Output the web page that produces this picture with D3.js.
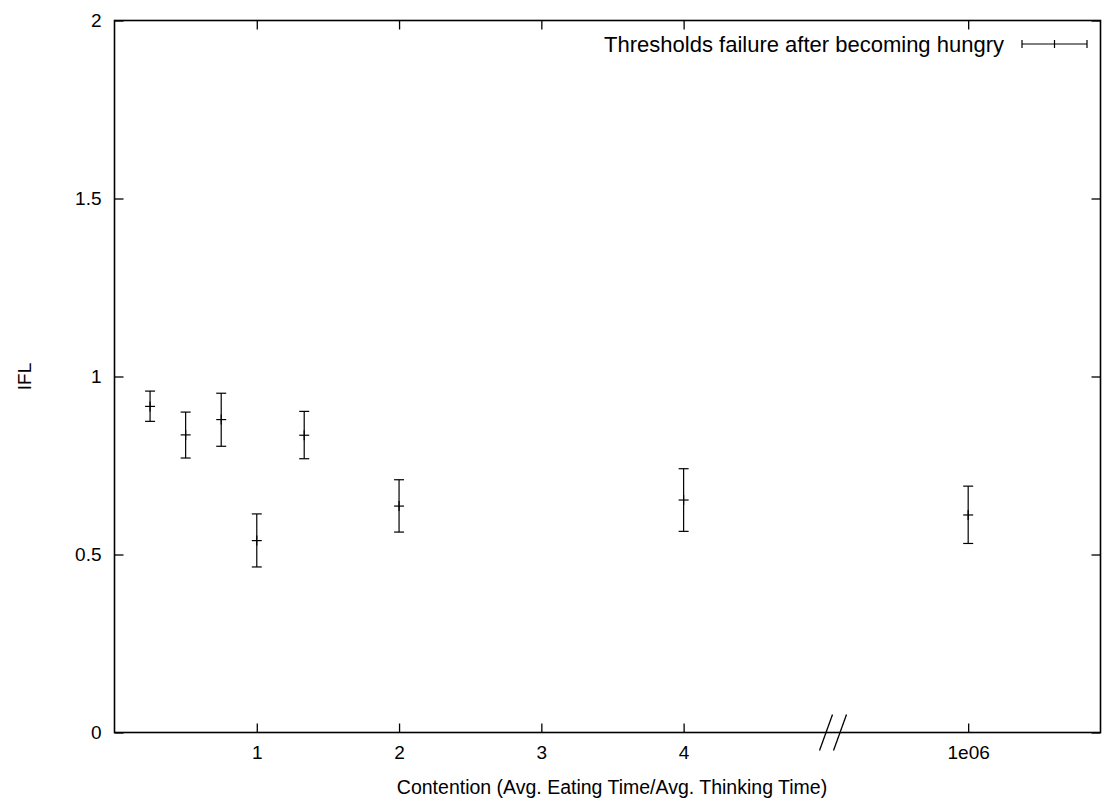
<!DOCTYPE html>
<html>
<head>
<meta charset="utf-8">
<script src="https://cdn.jsdelivr.net/npm/d3@7"></script>
<style>
  html, body { margin: 0; padding: 0; background: #fff; }
  svg { display: block; }
  text { font-family: "Liberation Sans", Arial, Helvetica, sans-serif; fill: #000; }
</style>
</head>
<body>
<svg id="chart" width="1115" height="807"></svg>
<script>
// Contention ratio (avg eating / avg thinking) for each run
const contention = [0.25, 0.5, 0.75, 1, 4 / 3, 2, 4, 1e6];
// Mean IFL and error-bar limits
const iflMean = [0.916, 0.836, 0.879, 0.539, 0.835, 0.636, 0.653, 0.611];
const iflLow  = [0.874, 0.771, 0.804, 0.465, 0.769, 0.563, 0.565, 0.531];
const iflHigh = [0.959, 0.900, 0.953, 0.614, 0.902, 0.710, 0.741, 0.692];

const xTickValues = [1, 2, 3, 4, 6];
const xTickLabels = ["1", "2", "3", "4", "1e06"];
const yTickValues = [0, 0.5, 1, 1.5, 2];
const yTickLabels = ["0", "0.5", "1", "1.5", "2"];

const seriesName = "Thresholds failure after becoming hungry";
const xTitle = "Contention (Avg. Eating Time/Avg. Thinking Time)";
const yTitle = "IFL";

// The axis is broken after 4; the huge value sits in the slot at 6.
const breakAt = 5.05;
const farSlot = 6;
const axisPos = c => (c > breakAt ? farSlot : c);

(function draw() {
  const svg = d3.select("#chart");
  const pl = 114.5, pr = 1100.5, pt = 20.5, pb = 732.5;
  const fontSize = 19;
  const tickLen = 9;

  // x = 0 sits on the left border, one unit is about 142 px
  const x = d3.scaleLinear().domain([0, 6.93]).range([pl, pr]);
  const y = d3.scaleLinear().domain([0, 2]).range([pb, pt]);

  const data = contention.map((c, i) => ({
    pos: axisPos(c), mean: iflMean[i], lo: iflLow[i], hi: iflHigh[i]
  }));

  // Bottom axis with inward ticks
  const xAxis = d3.axisBottom(x)
    .tickValues(xTickValues)
    .tickFormat((d, i) => xTickLabels[i])
    .tickSizeInner(-tickLen).tickSizeOuter(0).tickPadding(13);
  const gx = svg.append("g").attr("transform", `translate(0,${pb})`).call(xAxis);
  gx.select(".domain").remove();
  gx.selectAll("line").attr("stroke", "#000").attr("stroke-width", 1.3);
  gx.selectAll("text").attr("font-size", fontSize).attr("font-family", null);

  // Mirrored top ticks
  const gxTop = svg.append("g").attr("transform", `translate(0,${pt})`)
    .call(d3.axisTop(x).tickValues(xTickValues).tickFormat("").tickSizeInner(-tickLen).tickSizeOuter(0));
  gxTop.select(".domain").remove();
  gxTop.selectAll("line").attr("stroke", "#000").attr("stroke-width", 1.3);

  // Left axis
  const yAxis = d3.axisLeft(y)
    .tickValues(yTickValues)
    .tickFormat((d, i) => yTickLabels[i])
    .tickSizeInner(-tickLen).tickSizeOuter(0).tickPadding(13);
  const gy = svg.append("g").attr("transform", `translate(${pl},0)`).call(yAxis);
  gy.select(".domain").remove();
  gy.selectAll("line").attr("stroke", "#000").attr("stroke-width", 1.3);
  gy.selectAll("text").attr("font-size", fontSize).attr("font-family", null);

  // Mirrored right ticks
  const gyR = svg.append("g").attr("transform", `translate(${pr},0)`)
    .call(d3.axisRight(y).tickValues(yTickValues).tickFormat("").tickSizeInner(-tickLen).tickSizeOuter(0));
  gyR.select(".domain").remove();
  gyR.selectAll("line").attr("stroke", "#000").attr("stroke-width", 1.3);

  // Plot border
  svg.append("rect")
    .attr("x", pl).attr("y", pt)
    .attr("width", pr - pl).attr("height", pb - pt)
    .attr("fill", "none").attr("stroke", "#000").attr("stroke-width", 1.6);

  // Axis break marks
  const bx = x(breakAt);
  [-7, 7].forEach(off => {
    svg.append("line")
      .attr("x1", bx + off - 6.5).attr("y1", pb + 18)
      .attr("x2", bx + off + 6.5).attr("y2", pb - 18)
      .attr("stroke", "#000").attr("stroke-width", 1.3);
  });

  // Error bars
  const capHalf = 5, markHalf = 5;
  const eb = svg.append("g").attr("stroke", "#000").attr("stroke-width", 1.2).attr("fill", "none");
  const pts = eb.selectAll("g.pt").data(data).join("g").attr("class", "pt");
  pts.append("line")
    .attr("x1", d => x(d.pos)).attr("x2", d => x(d.pos))
    .attr("y1", d => y(d.lo)).attr("y2", d => y(d.hi));
  pts.append("line")
    .attr("x1", d => x(d.pos) - capHalf).attr("x2", d => x(d.pos) + capHalf)
    .attr("y1", d => y(d.lo)).attr("y2", d => y(d.lo));
  pts.append("line")
    .attr("x1", d => x(d.pos) - capHalf).attr("x2", d => x(d.pos) + capHalf)
    .attr("y1", d => y(d.hi)).attr("y2", d => y(d.hi));
  // point marker (+)
  pts.append("line")
    .attr("x1", d => x(d.pos) - markHalf).attr("x2", d => x(d.pos) + markHalf)
    .attr("y1", d => y(d.mean)).attr("y2", d => y(d.mean));
  pts.append("line")
    .attr("x1", d => x(d.pos)).attr("x2", d => x(d.pos))
    .attr("y1", d => y(d.mean) - markHalf).attr("y2", d => y(d.mean) + markHalf);

  // Legend
  const legY = 44;
  const sx1 = 1022, sx2 = 1087;
  svg.append("text")
    .attr("x", sx1 - 18).attr("y", legY)
    .attr("dy", "0.35em")
    .attr("text-anchor", "end")
    .attr("font-size", 22)
    .text(seriesName);
  const lg = svg.append("g").attr("stroke", "#000").attr("stroke-width", 1.2);
  lg.append("line").attr("x1", sx1).attr("x2", sx2).attr("y1", legY).attr("y2", legY);
  lg.append("line").attr("x1", sx1).attr("x2", sx1).attr("y1", legY - 4).attr("y2", legY + 4);
  lg.append("line").attr("x1", sx2).attr("x2", sx2).attr("y1", legY - 4).attr("y2", legY + 4);
  lg.append("line").attr("x1", (sx1 + sx2) / 2).attr("x2", (sx1 + sx2) / 2).attr("y1", legY - 4).attr("y2", legY + 4);

  // Axis titles
  svg.append("text")
    .attr("x", 612).attr("y", 794)
    .attr("text-anchor", "middle")
    .attr("font-size", 19.5)
    .text(xTitle);
  svg.append("text")
    .attr("transform", `translate(31,${(pt + pb) / 2}) rotate(-90)`)
    .attr("text-anchor", "middle")
    .attr("font-size", fontSize)
    .text(yTitle);
})();
</script>
</body>
</html>
